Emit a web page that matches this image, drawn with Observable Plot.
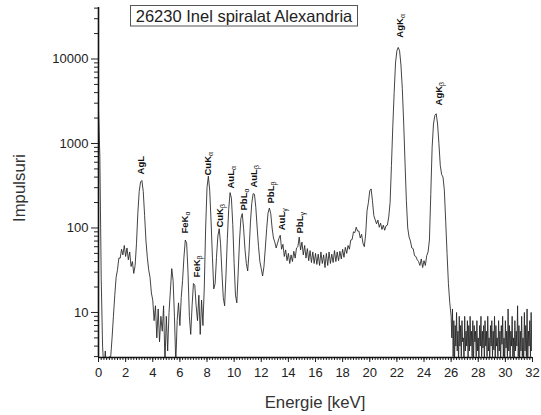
<!DOCTYPE html>
<html>
<head>
<meta charset="utf-8">
<script src="https://cdn.jsdelivr.net/npm/d3@7"></script>
<script src="https://cdn.jsdelivr.net/npm/@observablehq/plot@0.6"></script>
<style>
  html, body { margin: 0; padding: 0; background: #fff; }
  #chart { width: 541px; height: 415px; }
</style>
</head>
<body>
<div id="chart"></div>
<script>
// ---- Data ----
const titleText = "26230 Inel spiralat Alexandria";
const xTitle = "Energie [keV]";
const yTitle = "Impulsuri";

// Spectrum 0.0 – 25.9 keV, one value every 0.1 keV
const mainStartKeV = 0, mainStepKeV = 0.1;
const countsMain = [
  2500, 700, 25, 4, 2, 3.5, 2, 2.5, 3, 3,
  5, 9, 16, 26, 32, 44, 44, 56, 48, 62,
  46, 58, 42, 52, 35, 40, 29, 36, 65, 150,
  270, 350, 365, 270, 140, 70, 45, 32, 26, 17,
  14, 8, 12, 5, 11, 4.5, 9, 6, 12, 2.5,
  9, 3.5, 10, 18, 33, 24, 9, 2.5, 8, 13,
  7, 15, 24, 45, 72, 66, 30, 9, 5.5, 12,
  22, 21, 12, 8, 16, 5.5, 14, 7, 20, 100,
  300, 410, 280, 120, 45, 19, 22, 45, 80, 98,
  65, 30, 15, 12, 28, 75, 165, 262, 225, 110,
  38, 16, 13, 30, 72, 130, 148, 98, 56, 38,
  31, 52, 115, 195, 255, 250, 175, 100, 60, 40,
  33, 27, 35, 58, 98, 150, 172, 148, 100, 76,
  68, 58, 66, 75, 82, 56, 64, 46, 55, 41,
  50, 38, 48, 40, 53, 44, 58, 60, 78, 55,
  68, 48, 62, 44, 57, 41, 54, 39, 52, 38,
  50, 37, 49, 36, 52, 38, 48, 34, 50, 36,
  52, 38, 49, 39, 54, 40, 52, 41, 53, 43,
  56, 45, 59, 50, 62, 56, 72, 73, 90, 88,
  102, 92, 92, 76, 84, 66, 60, 85, 160, 200,
  275, 290, 210, 140, 125, 112, 124, 102, 114, 96,
  108, 94, 106, 108, 135, 200, 550, 1600, 4000, 9000,
  12500, 13700, 12500, 8500, 4500, 1800, 600, 210, 100, 78,
  70, 58, 57, 47, 46, 42, 40, 36, 43, 34,
  41, 36, 47, 52, 72, 250, 900, 1700, 2150, 2250,
  1700, 1000, 550, 430, 400, 280, 120, 50, 22, 13
];

// Noisy tail 26.00 – 32.00 keV, one value every 0.05 keV
const tailStartKeV = 26, tailStepKeV = 0.05;
const countsTail = [
  9, 5, 11, 3, 8, 2.5, 7, 4, 10, 3.5,
  6, 2.5, 9, 4, 7, 3, 8, 4.5, 5, 2.5,
  9, 3.5, 6, 4, 8, 2.8, 7, 3.5, 9, 4,
  6, 3, 8, 2.5, 7, 4.5, 6, 3, 8, 3.5,
  5, 2.6, 7, 4, 9, 3, 6, 3.8, 7, 2.5,
  8, 4, 6, 3, 9, 3.5, 5, 2.6, 7, 4,
  8, 3, 6, 3.6, 9, 2.5, 7, 4, 5, 3,
  8, 3.5, 6, 2.7, 7, 4.2, 9, 3, 5, 2.5,
  8, 3.8, 6, 3, 11, 3.5, 7, 2.6, 6, 4,
  9, 3, 5, 2.5, 8, 3.5, 6, 4, 12, 3,
  7, 2.6, 6, 3.5, 9, 3, 5, 2.5, 10, 3.5,
  7, 3, 11, 2.6, 6, 4, 8, 3, 10, 3.5,
  6
];

// Peak labels: name, subscript, energy (keV) and count where the label starts
const peakNames   = ["Ag", "Fe", "Fe", "Cu", "Cu", "Au", "Pb", "Au", "Pb", "Au", "Pb", "Ag", "Ag"];
const peakLines   = ["L", "K", "K", "K", "K", "L", "L", "L", "L", "L", "L", "K", "K"];
const peakSubs    = ["", "α", "β", "α", "β", "α", "α", "β", "β", "γ", "γ", "α", "β"];
const peakEnergy  = [3.16, 6.40, 7.28, 8.09, 8.93, 9.78, 10.70, 11.47, 12.72, 13.49, 14.85, 22.21, 25.07];
const peakLabelAt = [430, 86, 26, 418, 101, 293, 161, 301, 195, 94, 86, 17900, 2820];

// Axis ticks
const yMin = 2.93, yMax = 40700;
const yMajorTicks = [10, 100, 1000, 10000];
const yMinorTicks = [3,4,5,6,7,8,9, 20,30,40,50,60,70,80,90, 200,300,400,500,600,700,800,900,
                     2000,3000,4000,5000,6000,7000,8000,9000, 20000,30000,40000];
const xMajorTicks = [0,2,4,6,8,10,12,14,16,18,20,22,24,26,28,30,32];
const xMinorTicks = d3.range(0, 32.001, 0.2);

// ---- Build tables ----
const spectrum = [
  ...countsMain.map((c, i) => ({E: mainStartKeV + i * mainStepKeV, c})),
  ...countsTail.map((c, i) => ({E: tailStartKeV + i * tailStepKeV, c}))
];
const peakLabels = peakNames.map((n, i) => ({
  label: n + peakLines[i] + peakSubs[i], sub: peakSubs[i], E: peakEnergy[i], c: peakLabelAt[i]
}));

const FONT = "'Liberation Sans', Arial, Helvetica, sans-serif";

const chart = Plot.plot({
  width: 541,
  height: 415,
  marginLeft: 98,
  marginRight: 9,
  marginTop: 7,
  marginBottom: 58,
  style: {fontFamily: FONT, fontSize: "13px", color: "#222", background: "#fff"},
  x: {domain: [0, 32], label: null},
  y: {type: "log", domain: [yMin, yMax], label: null},
  marks: [
    Plot.axisX(xMinorTicks, {tickSize: 3, tickFormat: () => "", label: null, stroke: "#222"}),
    Plot.axisX(xMajorTicks, {tickSize: 5, tickPadding: 5, tickFormat: d => String(d), label: null, fontSize: 13, stroke: "#222"}),
    Plot.axisY(yMinorTicks, {tickSize: 4, tickFormat: () => "", label: null, stroke: "#222"}),
    Plot.axisY(yMajorTicks, {tickSize: 7, tickPadding: 3, tickFormat: d => String(d), label: null, fontSize: 13, stroke: "#222"}),
    Plot.line(spectrum, {x: "E", y: "c", stroke: "#222", strokeWidth: 0.85, clip: true}),
    Plot.ruleX([0], {stroke: "#111", strokeWidth: 1.6}),
    Plot.ruleY([yMin], {stroke: "#111", strokeWidth: 1.6}),
    Plot.text(peakLabels, {
      x: "E", y: "c", text: "label", rotate: -90, textAnchor: "start", lineAnchor: "middle",
      fontWeight: "bold", fontSize: 9.5, fill: "#111", className: "peaklabels"
    })
  ]
});

document.getElementById("chart").appendChild(chart);

// Subscripts for the Greek letters in peak labels
d3.select(chart).selectAll(".peaklabels text").each(function() {
  const t = d3.select(this);
  const full = t.text();
  const last = full.slice(-1);
  if ("αβγ".includes(last)) {
    t.text(null);
    t.append("tspan").text(full.slice(0, -1));
    t.append("tspan").attr("dy", "0.3em").attr("font-size", "7px").attr("font-weight", "normal").text(last);
  }
});

// Title box, axis titles
const svg = d3.select(chart);
svg.append("rect")
  .attr("x", 130.5).attr("y", 5.5).attr("width", 227).attr("height", 20.5)
  .attr("fill", "#fff").attr("stroke", "#555").attr("stroke-width", 1);
svg.append("text")
  .attr("x", 244).attr("y", 21.5).attr("text-anchor", "middle")
  .attr("font-family", FONT).attr("font-size", 16.5).attr("fill", "#222")
  .text(titleText);
svg.append("text")
  .attr("transform", "translate(19,188) rotate(-90)")
  .attr("text-anchor", "middle").attr("dy", "0.35em")
  .attr("font-family", FONT).attr("font-size", 16.8).attr("fill", "#333")
  .text(yTitle);
svg.append("text")
  .attr("x", 315).attr("y", 402).attr("text-anchor", "middle").attr("dy", "0.35em")
  .attr("font-family", FONT).attr("font-size", 16.8).attr("fill", "#333")
  .text(xTitle);
</script>
</body>
</html>
